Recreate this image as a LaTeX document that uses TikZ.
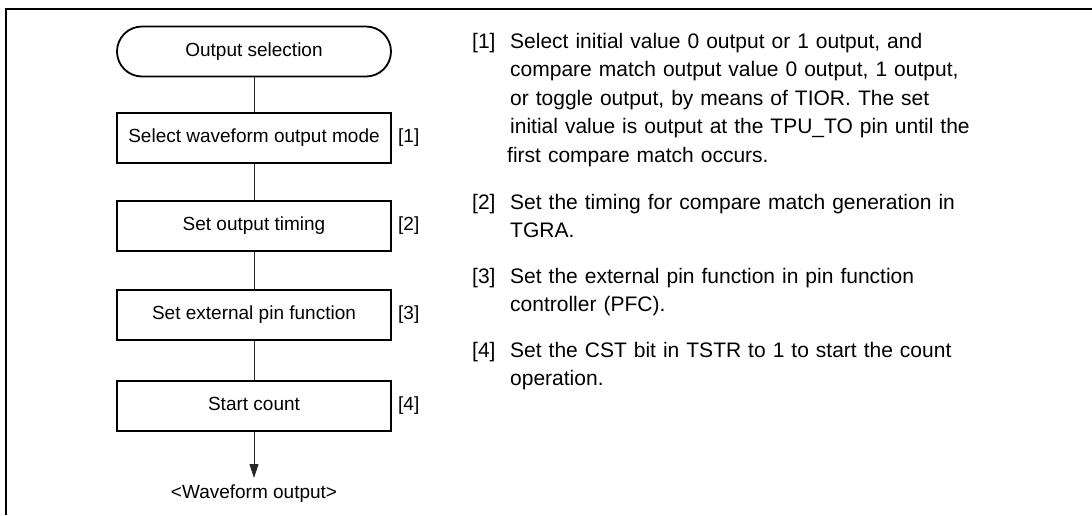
\documentclass[tikz,border=0pt]{standalone}
\usepackage{fontspec}
\setmainfont{Liberation Sans}
\usetikzlibrary{arrows.meta}
\begin{document}
\begin{tikzpicture}[x=1pt,y=-1pt,
  boxstyle/.style={draw, line width=1.8pt, minimum width=274pt, minimum height=50pt, inner sep=0pt, text height=13.8pt, text depth=4pt, font=\fontsize{19}{22}\selectfont},
  termstyle/.style={boxstyle, rounded corners=25pt},
  conn/.style={line width=0.9pt, draw=black!85},
  numlbl/.style={font=\fontsize{19}{22}\selectfont, anchor=west, inner sep=0pt, text height=13.8pt, text depth=4pt},
  desc/.style={font=\fontsize{21}{28.5}\selectfont, anchor=base west, text width=560pt, align=left, inner sep=0pt},
  dnum/.style={font=\fontsize{21}{28.5}\selectfont, anchor=base west, inner sep=0pt}]
\useasboundingbox (0,0) rectangle (1092,515);
\draw[line width=2pt] (6,515) -- (6,9) -- (1092,9);

\node[termstyle] (t) at (254,51.5) {Output selection};
\node[boxstyle] (b1) at (254,138) {Select waveform output mode};
\node[boxstyle] (b2) at (254,226) {Set output timing};
\node[boxstyle] (b3) at (254,315) {Set external pin function};
\node[boxstyle] (b4) at (254,406) {Start count};
\node[numlbl] (l1) at (398,138) {[1]};
\node[numlbl] (l2) at (398,226) {[2]};
\node[numlbl] (l3) at (398,315) {[3]};
\node[numlbl] (l4) at (398,406) {[4]};
\node[font=\fontsize{19}{22}\selectfont, inner sep=0pt] (wo) at (254,494) {<Waveform output>};
\coordinate (ae) at (254,478);

\draw[conn] (t) -- (b1);
\draw[conn] (b1) -- (b2);
\draw[conn] (b2) -- (b3);
\draw[conn] (b3) -- (b4);
\draw[conn, -{Triangle[length=14pt,width=9pt]}] (b4) -- (ae);

\node[dnum] (n1) at (472,48.3) {[1]};
\node[desc] (d1) at (510,48.3) {Select initial value 0 output or 1 output, and\\
compare match output value 0 output, 1 output,\\
or toggle output, by means of TIOR. The set\\
initial value is output at the TPU\_TO pin until the\\
\hspace*{-3pt}first compare match occurs.};
\node[dnum] (n2) at (472,209) {[2]};
\node[desc] (d2) at (510,209) {Set the timing for compare match generation in\\
TGRA.};
\node[dnum] (n3) at (472,283) {[3]};
\node[desc] (d3) at (510,283) {Set the external pin function in pin function\\
controller (PFC).};
\node[dnum] (n4) at (472,357) {[4]};
\node[desc] (d4) at (510,357) {Set the CST bit in TSTR to 1 to start the count\\
operation.};
\end{tikzpicture}
\end{document}
